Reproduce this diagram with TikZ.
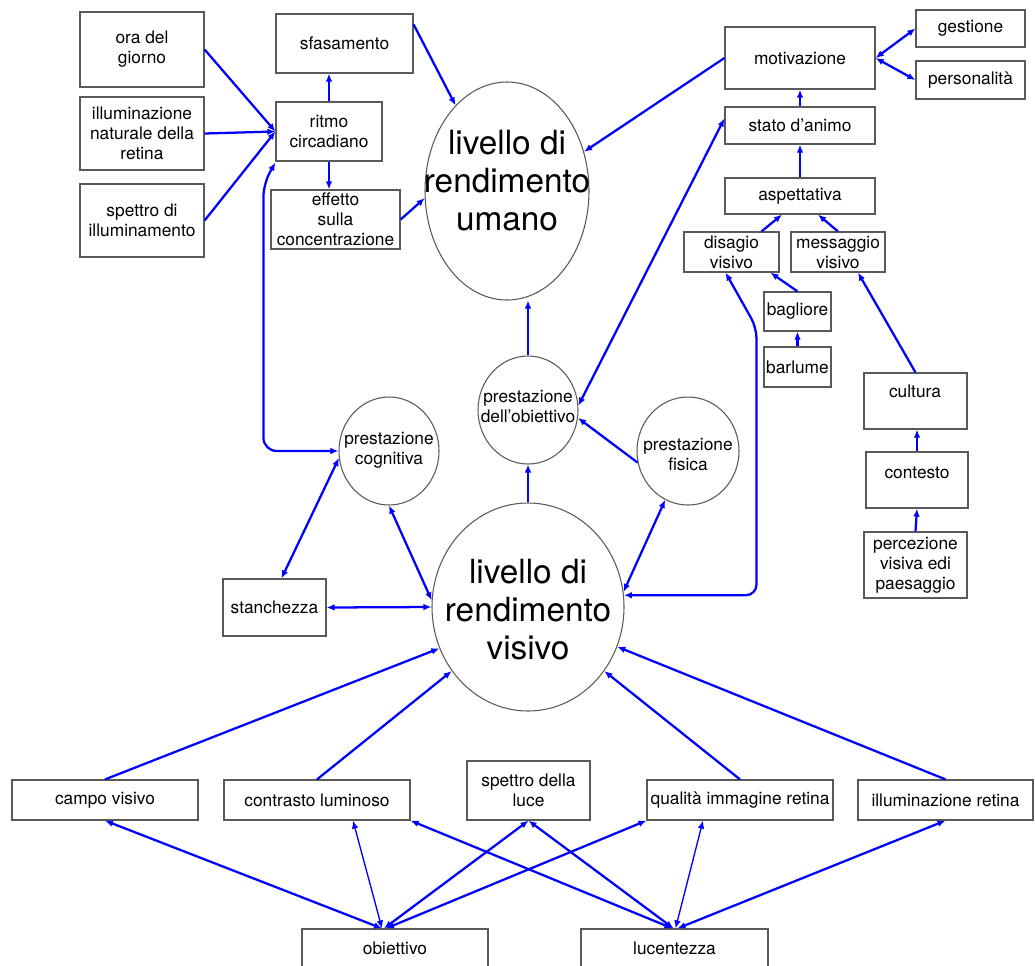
\documentclass[tikz,border=0pt]{standalone}
\usepackage{fontspec}
\setmainfont{TeX Gyre Heros}
\usetikzlibrary{arrows.meta,shapes.geometric,calc}
\definecolor{lnblue}{RGB}{0,0,255}
\definecolor{bxgray}{RGB}{90,90,90}
\begin{document}
\begin{tikzpicture}[x=0.75pt,y=-0.75pt,
  boxs/.style={draw=bxgray, line width=0.9pt, rectangle, inner sep=0pt, align=center, font=\fontsize{13}{15}\selectfont},
  bx/.style n args={4}{boxs, minimum width={(#3-#1)*0.75pt}, minimum height={(#4-#2)*0.75pt}, at={({(#1+#3)/2},{(#2+#4)/2})}},
  circ/.style={draw=bxgray, line width=0.8pt, ellipse, inner sep=0pt},
  txt/.style={inner sep=0pt, align=center, font=\fontsize{13}{15}\selectfont},
  bigtxt/.style={inner sep=0pt, align=center, font=\fontsize{25}{28.5}\selectfont},
  arr/.style={draw=lnblue, line width=1.7pt, -{Latex[length=6pt,width=5pt]}},
  bi/.style={draw=lnblue, line width=1.7pt, {Latex[length=6pt,width=5pt]}-{Latex[length=6pt,width=5pt]}},
  thinln/.style={line width=1pt},
]
\useasboundingbox (0,0) rectangle (1035,965);
\fill[white] (0,0) rectangle (1035,965);

% boxes
\node[bx={80}{12}{204}{87}] (oradel) {ora del\\giorno};
\node[bx={80}{97}{204}{170}] (illumnat) {illuminazione\\naturale della\\retina};
\node[bx={80}{184}{204}{257}] (spettroill) {spettro di\\illuminamento};
\node[bx={276}{14}{413}{73}] (sfas) {sfasamento};
\node[bx={276}{102}{382}{161}] (ritmo) {ritmo\\circadiano};
\node[bx={271}{190}{400}{249}] (effetto) {effetto\\sulla\\concentrazione};
\node[bx={725}{27}{875}{89}] (motiv) {motivazione};
\node[bx={916}{10}{1025}{47}] (gestione) {gestione};
\node[bx={916}{61}{1025}{99}] (personalita) {personalità};
\node[bx={725}{107}{875}{144}] (stato) {stato d'animo};
\node[bx={725}{178}{875}{214}] (aspett) {aspettativa};
\node[bx={684}{232}{779}{272}] (disagio) {disagio\\visivo};
\node[bx={791}{232}{885}{272}] (messaggio) {messaggio\\visivo};
\node[bx={764}{292}{831}{331}] (bagliore) {bagliore};
\node[bx={764}{347}{831}{387}] (barlume) {barlume};
\node[bx={864}{373}{967}{429}] (cultura) {};
\node[txt] (culturat) at (915,391) {cultura};
\node[bx={866}{452}{968}{508}] (contesto) {};
\node[txt] (contestot) at (917,473) {contesto};
\node[bx={864}{532}{967}{598}] (percezione) {percezione\\visiva edi\\paesaggio};
\node[bx={223}{579}{326}{636}] (stanchezza) {stanchezza};
\node[bx={12}{780}{198}{820}] (campo) {campo visivo};
\node[bx={224}{780}{410}{820}] (contrasto) {contrasto luminoso};
\node[bx={467}{761}{590}{820}] (spettroluce) {spettro della\\luce};
\node[bx={647}{780}{833}{820}] (qualita) {qualità immagine retina};
\node[bx={858}{780}{1033}{820}] (illumret) {illuminazione retina};
\node[bx={302}{929}{488}{967}] (obiettivo) {obiettivo};
\node[bx={581}{929}{768}{967}] (lucentezza) {lucentezza};

% ellipses
\node[circ, minimum width={164*0.75pt}, minimum height={218*0.75pt}] (umano) at (507,191) {};
\node[bigtxt] (umanot) at (507,181) {livello di\\rendimento\\umano};
\node[circ, minimum width={192*0.75pt}, minimum height={208*0.75pt}] (visivo) at (528,607) {};
\node[bigtxt] (visivot) at (528,610) {livello di\\rendimento\\visivo};
\node[circ, minimum width={100*0.75pt}, minimum height={108*0.75pt}] (obiettivoC) at (528,410) {};
\node[txt] (obiettivoCt) at (528,406) {prestazione\\dell'obiettivo};
\node[circ, minimum width={100*0.75pt}, minimum height={108*0.75pt}] (cognitiva) at (389,451) {};
\node[txt] (cognitivat) at (389,450) {prestazione\\cognitiva};
\node[circ, minimum width={102*0.75pt}, minimum height={108*0.75pt}] (fisica) at (688,451) {};
\node[txt] (fisicat) at (688,454) {prestazione\\fisica};

% connectors top left
\draw[arr] (oradel.east) -- (ritmo.west);
\draw[arr] (illumnat.east) -- (ritmo.west);
\draw[arr] (spettroill.east) -- (ritmo.west);
\draw[arr] (ritmo.north) -- (sfas.south -| ritmo.north);
\draw[arr] (ritmo.south) -- (effetto.north -| ritmo.south);
\draw[arr] ($(sfas.north east)+(0,11)$) -- (umano.121);
\draw[arr] (effetto.east) -- (umano.185);

% top right
\draw[arr] (motiv.west) -- (umano.27);
\draw[bi] ($(stato.west)+(0,-7)$) -- (obiettivoC.5);
\draw[arr] (stato.north) -- (motiv.south);
\draw[arr] (aspett.north) -- (stato.south);
\draw[arr] ($(disagio.north)+(30,0)$) -- ($(aspett.south)+(-18,0)$);
\draw[arr] (messaggio.north) -- ($(aspett.south)+(18,0)$);
\draw[arr] (bagliore.north) -- ($(disagio.south)+(39,0)$);
\draw[arr] (barlume.north) -- (bagliore.south);
\draw[arr] (cultura.north) -- ($(messaggio.south)+(20,0)$);
\draw[arr] (contesto.north) -- (cultura.south -| contesto.north);
\draw[arr] (percezione.north) -- (contesto.south);
\draw[bi] (motiv.east) -- (gestione.west);
\draw[bi] (motiv.east) -- (personalita.west);
\draw[bi, rounded corners=8pt] (visivo.7) -| ($(disagio.south)+(25,55)$) -- ($(disagio.south)+(-6,0)$);

% middle
\draw[bi, rounded corners=10pt] ($(ritmo.south west)+(0,1)$) -- ($(ritmo.south west)+(-12,22)$) |- (cognitiva.west);
\draw[bi] (cognitiva.188) -- ($(stanchezza.north)+(7,0)$);
\draw[bi] (stanchezza.east) -- (visivo.west);
\draw[bi] (cognitiva.south) -- (visivo.176);
\draw[arr] (visivo.north) -- (obiettivoC.south);
\draw[arr] (obiettivoC.north) -- (obiettivoC.north |- umano.south);
\draw[arr] (fisica.193) -- (obiettivoC.351);
\draw[bi] (visivo.9) -- (fisica.245);

% bottom
\draw[arr] (campo.north) -- (visivo.205);
\draw[arr] (contrasto.north) -- (visivo.220);
\draw[arr] (qualita.north) -- (visivo.320);
\draw[arr] (illumret.north) -- (visivo.336);
\draw[bi] (campo.south) -- ($(obiettivo.north)+(-13,0)$);
\draw[bi, thinln] ($(contrasto.south)+(36,0)$) -- ($(obiettivo.north)+(-13,0)$);
\draw[bi] (spettroluce.south) -- ($(obiettivo.north)+(-11,0)$);
\draw[bi] (qualita.south west) -- ($(obiettivo.north)+(-9,0)$);
\draw[bi] (contrasto.south east) -- ($(lucentezza.north)+(-2,0)$);
\draw[bi] (spettroluce.south) -- ($(lucentezza.north)+(-1,0)$);
\draw[bi, thinln] ($(qualita.south)+(-37,0)$) -- ($(lucentezza.north)+(1,0)$);
\draw[bi] (illumret.south) -- ($(lucentezza.north)+(3,0)$);
\end{tikzpicture}
\end{document}
